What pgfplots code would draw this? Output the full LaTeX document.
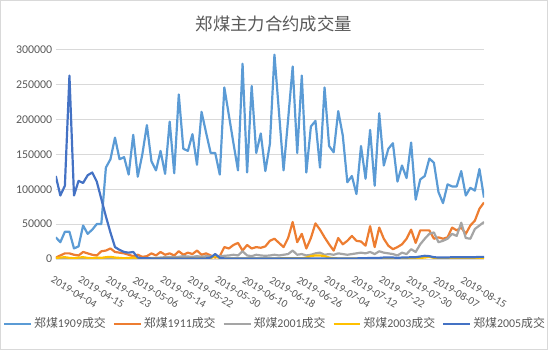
\documentclass[border=0pt]{standalone}
\usepackage{fontspec}
\setmainfont{Carlito}
\newfontfamily\cjk{Noto Sans CJK SC}
\usepackage{pgfplots}
\usepackage{pgfplotstable}
\pgfplotsset{compat=1.18}
\definecolor{cA}{HTML}{5B9BD5}
\definecolor{cB}{HTML}{ED7D31}
\definecolor{cC}{HTML}{A5A5A5}
\definecolor{cD}{HTML}{FFC000}
\definecolor{cE}{HTML}{4472C4}
\definecolor{tgray}{HTML}{595959}
\definecolor{ggray}{HTML}{D9D9D9}
\pgfplotstableread{
i  a      b     c     d     e
0  31000  2000  500   1500  119000
1  24000  5000  500   2000  91000
2  39000  8000  500   2500  105000
3  39000  8000  500   1500  263000
4  15000  6000  500   1000  91000
5  18000  5000  500   2000  112000
6  48000  10000 500   2500  109000
7  36000  8000  500   1500  120000
8  42000  6000  500   1000  124000
9  50000  5000  500   2000  111000
10 50000  11000 500   1500  86000
11 131000 12000 1000  2500  61000
12 143000 15000 1000  3000  38000
13 174000 10000 1000  2000  17000
14 143000 9000  1000  1500  13000
15 146000 8000  1000  1000  10000
16 121000 6000  1000  1500  9000
17 178000 4000  1000  2000  10000
18 118000 6000  1000  1000  2000
19 150000 3000  1000  1000  1000
20 192000 4000  1000  800   1000
21 140000 8000  1500  500   800
22 127000 5000  1500  500   800
23 155000 10000 2000  500   800
24 122000 6000  2500  500   800
25 197000 8000  3000  500   800
26 123000 5000  2500  500   800
27 236000 11000 3000  500   800
28 158000 6000  4000  500   800
29 155000 9000  3500  500   800
30 179000 7000  3000  500   800
31 135000 12000 4000  500   800
32 211000 6000  3000  500   800
33 181000 8000  4000  500   800
34 152000 5000  3500  1000  2000
35 152000 2000  5000  4000  7000
36 121000 4000  4000  1000  1500
37 246000 17000 4500  800   800
38 206000 15000 5000  800   800
39 166000 20000 6000  800   800
40 127000 23000 5000  800   800
41 280000 12000 11000 800   800
42 124000 20000 5000  800   800
43 248000 15000 4000  800   800
44 152000 17000 6000  800   800
45 180000 16000 5000  800   800
46 126000 18000 4500  800   800
47 165000 26000 5000  800   800
48 293000 29000 6000  800   800
49 210000 23000 5000  800   800
50 127000 17000 6000  1000  800
51 200000 30000 7000  1000  800
52 276000 53000 12000 1000  800
53 152000 24000 6000  1000  800
54 263000 36000 7000  1000  800
55 124000 15000 5000  2000  800
56 190000 30000 6000  4000  800
57 198000 51000 8000  5000  800
58 131000 42000 9000  5000  800
59 246000 31000 6000  4000  800
60 162000 21000 7000  2000  800
61 153000 12000 6000  1000  800
62 212000 30000 8000  800   800
63 177000 21000 7000  800   800
64 110000 26000 6000  800   800
65 119000 33000 7000  800   800
66 93000  26000 8000  800   800
67 162000 25000 9000  800   1000
68 115000 19000 8000  800   1000
69 185000 47000 10000 800   1500
70 105000 17000 7000  800   1500
71 209000 45000 11000 800   1500
72 134000 29000 9000  800   2000
73 158000 19000 8000  800   2000
74 166000 14000 7000  800   2000
75 111000 17000 5000  800   1500
76 134000 21000 9000  800   2000
77 116000 29000 7000  800   2000
78 167000 42000 14000 800   2500
79 85000  23000 10000 1000  2500
80 114000 41000 21000 1500  3500
81 119000 41000 29000 2000  4500
82 144000 41000 36000 3000  4000
83 138000 29000 38000 1500  2500
84 96000  31000 24000 800   2000
85 80000  29000 26000 800   2000
86 107000 31000 29000 800   2000
87 104000 45000 36000 800   2500
88 104000 41000 33000 800   2500
89 126000 45000 52000 800   2500
90 91000  36000 30000 800   2500
91 102000 48000 29000 800   2500
92 98000  55000 43000 800   2500
93 129000 72000 48000 800   3000
94 88000  81000 53000 800   3000
}\data
\begin{document}
\begin{tikzpicture}
\draw[color=ggray, line width=0.8bp] (0.4bp,0.4bp) rectangle (549.6bp,350.6bp);
\node[text=tgray, font=\cjk\fontsize{17.5}{20}\selectfont] at (275bp,327bp) {郑煤主力合约成交量};
\begin{axis}[
  at={(56bp,91bp)}, anchor=south west, scale only axis,
  width=430bp, height=210bp,
  xmin=0, xmax=94, ymin=0, ymax=300000,
  axis x line*=bottom, axis y line*=left,
  y axis line style={draw=none},
  x axis line style={draw=ggray, line width=0.8bp, -},
  major tick length=0pt,
  ymajorgrids, grid style={draw=ggray, line width=0.8bp},
  ytick={0,50000,...,300000},
  scaled y ticks=false,
  /pgf/number format/.cd, fixed, 1000 sep={}, assume math mode=true,
  /pgfplots/.cd,
  yticklabel style={font=\fontsize{12}{14}\selectfont, text=tgray},
  xtick={0,6,...,90},
  xticklabels={2019-04-04,2019-04-15,2019-04-23,2019-05-06,2019-05-14,2019-05-22,2019-05-30,2019-06-10,2019-06-18,2019-06-26,2019-07-04,2019-07-12,2019-07-22,2019-07-30,2019-08-07,2019-08-15},
  xticklabel style={xshift=-2bp, yshift=-16bp, rotate=-31, anchor=north west, inner sep=0.5bp, font=\fontsize{11}{12}\selectfont, text=tgray},
  legend columns=5,
  legend style={draw=none, fill=none, at={(0.512,-0.3095)}, anchor=center,
    font=\fontsize{12}{14}\selectfont, text=tgray,
    /tikz/every even column/.append style={column sep=5bp}},
  legend image code/.code={\draw[#1] (0bp,0bp) -- (27bp,0bp);},
  every axis plot/.append style={line width=2.2bp, line join=round, no markers},
]
\addplot[cA] table[x=i, y=a] {\data};
\addlegendentry{{\cjk 郑煤}1909{\cjk 成交}}
\addplot[cB] table[x=i, y=b] {\data};
\addlegendentry{{\cjk 郑煤}1911{\cjk 成交}}
\addplot[cC] table[x=i, y=c] {\data};
\addlegendentry{{\cjk 郑煤}2001{\cjk 成交}}
\addplot[cD] table[x=i, y=d] {\data};
\addlegendentry{{\cjk 郑煤}2003{\cjk 成交}}
\addplot[cE] table[x=i, y=e] {\data};
\addlegendentry{{\cjk 郑煤}2005{\cjk 成交}}
\end{axis}
\end{tikzpicture}
\end{document}
